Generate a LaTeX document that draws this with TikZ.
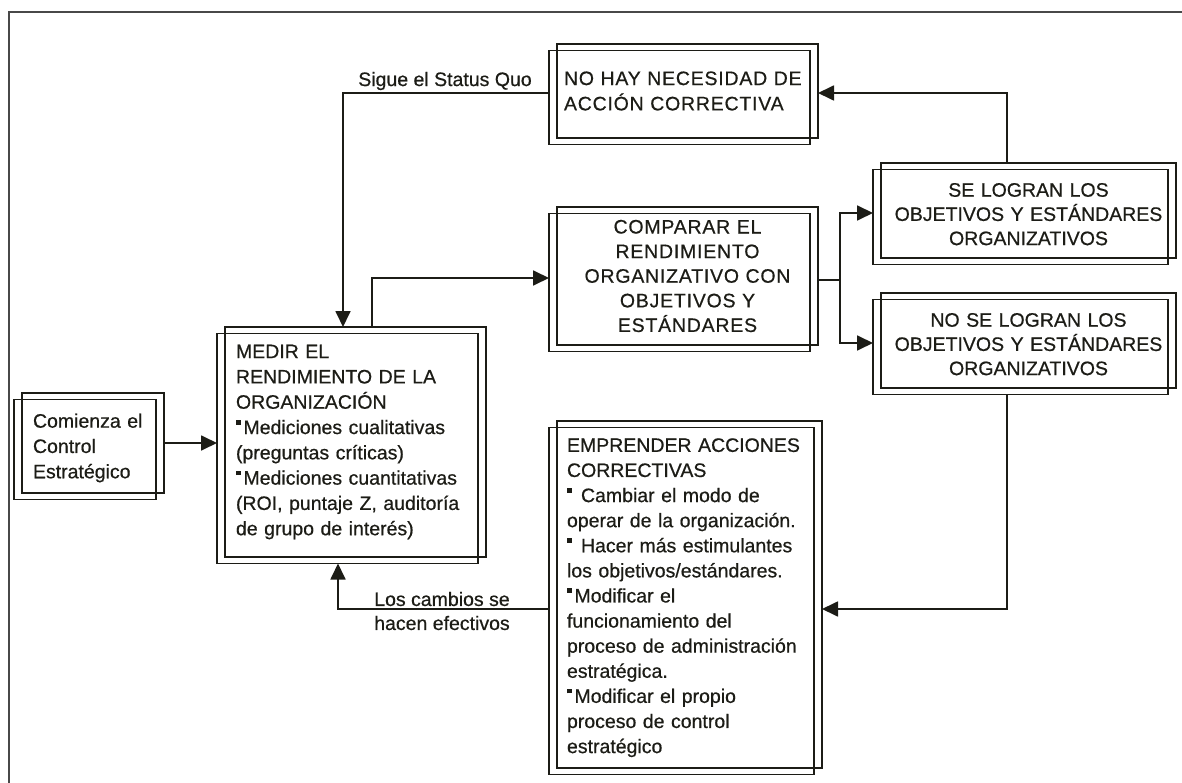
\documentclass[tikz,border=0pt]{standalone}
\usepackage{fontspec}
\setmainfont{Liberation Sans}[FakeBold=0.6]
\newfontfamily\capsfont{Liberation Sans}[FakeBold=0.6,LetterSpace=4]
\usetikzlibrary{arrows.meta,fit}
\definecolor{ink}{RGB}{28,28,22}
\definecolor{framegray}{RGB}{72,72,72}
\newcommand\bul{\rule[9.5pt]{4.5pt}{4.5pt}\hspace{3pt}}
\newcommand\twin[1]{\node[boxline, inner sep=0pt, outer sep=0pt,
  fit={([shift={(-8pt,-6.5pt)}]#1.south west) ([shift={(-8pt,-6.5pt)}]#1.north east)}] (#1s) {};}
\begin{document}
\begin{tikzpicture}[x=1pt,y=-1pt,
  font=\fontsize{19.5}{25.3}\selectfont, text=ink,
  boxline/.style={draw=ink, line width=1.8pt},
  box/.style={boxline, anchor=north west, inner xsep=12pt, inner ysep=0pt, outer sep=0pt},
  link/.style={draw=ink, line width=1.8pt},
  arr/.style={link, -{Triangle[length=16pt,width=15pt]}},
  lbl/.style={inner sep=0pt, align=center}]
\useasboundingbox (0,0) rectangle (1182,783);
\draw[framegray, line width=2.5pt] (9,790) -- (9,12) -- (1190,12);

% boxes (upper-right rectangle carries the text)
\node[box, align=left, minimum width=142pt, minimum height=100pt, text width=120pt, inner xsep=11pt] (start) at (22,393)
  {\rule{0pt}{24pt}Comienza el\\Control\\Estratégico};
\twin{start}
\node[box, align=left, minimum width=261pt, minimum height=230pt, text width=239pt, inner xsep=11pt] (medir) at (225,327)
  {MEDIR EL\\RENDIMIENTO DE LA\\ORGANIZACIÓN\\\bul Mediciones cualitativas\\(preguntas críticas)\\\bul Mediciones cuantitativas\\(ROI, puntaje Z, auditoría\\de grupo de interés)};
\twin{medir}
\node[box, align=left, minimum width=261pt, minimum height=94pt, text width=247pt, inner xsep=7pt,
  font=\capsfont\fontsize{19.5}{25.3}\selectfont] (nohay) at (557,44)
  {NO HAY NECESIDAD DE\\ACCIÓN CORRECTIVA\\[20pt]};
\twin{nohay}
\node[box, align=center, minimum width=261pt, minimum height=138pt, text width=251pt, inner xsep=5pt,
  font=\capsfont\fontsize{19.5}{24.6}\selectfont] (compar) at (557,207)
  {COMPARAR EL\\RENDIMIENTO\\ORGANIZATIVO CON\\OBJETIVOS Y\\ESTÁNDARES};
\twin{compar}
\node[box, align=center, minimum width=295pt, minimum height=95pt, text width=287pt, inner xsep=4pt,
  font=\fontsize{19.5}{24.2}\selectfont] (selog) at (881,163)
  {\rule{0pt}{21pt}SE LOGRAN LOS\\OBJETIVOS Y ESTÁNDARES\\ORGANIZATIVOS};
\twin{selog}
\node[box, align=center, minimum width=295pt, minimum height=95pt, text width=287pt, inner xsep=4pt,
  font=\fontsize{19.5}{24.2}\selectfont] (noselog) at (881,293)
  {\rule{0pt}{21pt}NO SE LOGRAN LOS\\OBJETIVOS Y ESTÁNDARES\\ORGANIZATIVOS};
\twin{noselog}
\node[box, align=left, minimum width=261pt, minimum height=347pt, text width=245pt, inner xsep=10pt,
  font=\fontsize{19.5}{25.1}\selectfont] (emp) at (557,421)
  {\rule{0pt}{20pt}EMPRENDER ACCIONES\\CORRECTIVAS\\\bul\ Cambiar el modo de\\operar de la organización.\\\bul\ Hacer más estimulantes\\los objetivos/estándares.\\\bul Modificar el\\funcionamiento del\\proceso de administración\\estratégica.\\\bul Modificar el propio\\proceso de control\\estratégico};
\twin{emp}

% labels
\node[lbl] (sigue) at (445,81) {Sigue el Status Quo};
\node[lbl, font=\fontsize{19.5}{24}\selectfont] (cambios) at (442,611) {Los cambios se\\hacen efectivos};

% connectors
\coordinate (sq) at (343,93);
\coordinate (br) at (840,280);
\draw[arr] (start.east) -- (start.east -| medirs.west);
\draw[arr] (nohays.west |- sq) -| (medir.north -| sq);
\draw[arr] (medir.north -| 372,0) |- (compars.west |- 0,278);
\draw[link] (compar.east |- br) -- (br);
\draw[arr] (br) |- (selogs.west |- 0,213);
\draw[arr] (br) |- (noselogs.west |- 0,343);
\draw[arr] (selog.north -| 1007,0) |- (nohay.east |- 0,93);
\draw[arr] (noselogs.south -| 1007,0) |- (emp.east |- 0,609);
\draw[arr] (emps.west |- 0,609) -| (medirs.south -| 338,0);
\end{tikzpicture}
\end{document}
